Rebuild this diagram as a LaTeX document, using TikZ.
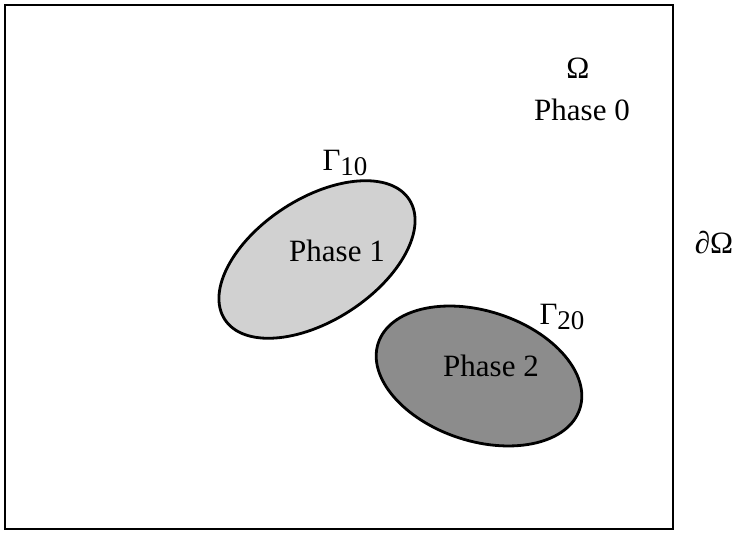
\documentclass[tikz,border=0pt]{standalone}
\usepackage{fontspec}
\setmainfont{Liberation Serif}
\begin{document}
\begin{tikzpicture}[x=1pt,y=1pt,
  lbl/.style={inner sep=0pt,font=\fontsize{31}{31}\selectfont},
  region/.style={draw=black,line width=2.8pt}]
\useasboundingbox (0,0) rectangle (735,534);
\definecolor{phaseone}{gray}{0.82}
\definecolor{phasetwo}{gray}{0.55}
% domain boundary
\draw[line width=2.2pt] (5,5) rectangle (673,529);
% phase 1
\draw[region,fill=phaseone] (317,274.5) ellipse[x radius=110,y radius=61,rotate=33];
% phase 2
\draw[region,fill=phasetwo] (479,158) ellipse[x radius=106,y radius=65,rotate=-18];
\node[lbl] (omega) at (578,466) {Ω};
\node[lbl] (p0) at (582,424) {Phase 0};
\node[lbl] (p1) at (337,283) {Phase 1};
\node[lbl] (p2) at (491,168) {Phase 2};
\node[lbl] (g10) at (345,371) {Γ\raisebox{-0.3ex}{\fontsize{27}{27}\selectfont 10}};
\node[lbl] (g20) at (562,217) {Γ\raisebox{-0.3ex}{\fontsize{27}{27}\selectfont 20}};
\node[lbl] (domb) at (714,291) {∂Ω};
\end{tikzpicture}
\end{document}
